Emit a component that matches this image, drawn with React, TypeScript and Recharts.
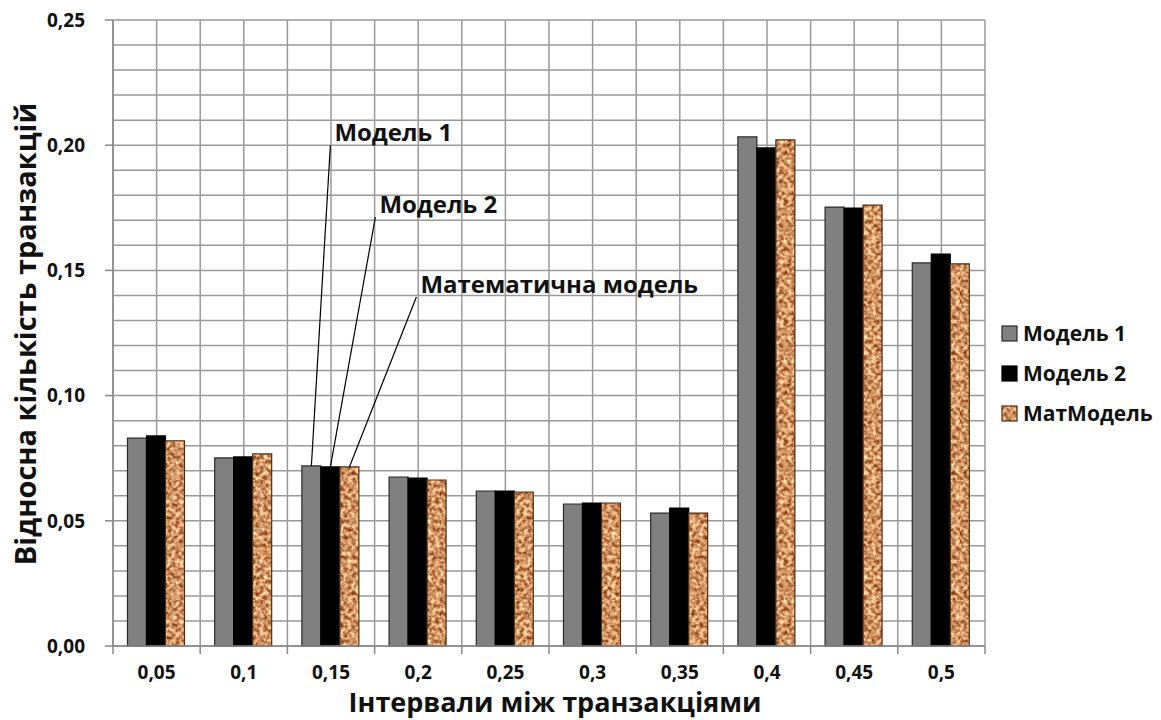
import React from "react";
import {
  BarChart,
  Bar,
  XAxis,
  YAxis,
  CartesianGrid,
  Legend,
  LabelList,
  Label,
} from "recharts";

// interval bins between transactions
const categories = ["0,05", "0,1", "0,15", "0,2", "0,25", "0,3", "0,35", "0,4", "0,45", "0,5"];

// relative share of transactions per bin
const model1 = [0.083, 0.0751, 0.0719, 0.0675, 0.0619, 0.0567, 0.0531, 0.2033, 0.1753, 0.153];
const model2 = [0.0839, 0.0755, 0.0715, 0.0671, 0.0619, 0.0571, 0.0551, 0.1989, 0.1749, 0.1565];
const matModel = [0.0819, 0.0767, 0.0715, 0.0663, 0.0615, 0.0571, 0.0531, 0.2021, 0.1761, 0.1526];

const yTicks = [0, 0.05, 0.1, 0.15, 0.2, 0.25];

const data = categories.map((c, i) => ({
  interval: c,
  model1: model1[i],
  model2: model2[i],
  matModel: matModel[i],
}));

const W = 1161;
const H = 720;
const MARGIN = { top: 20, right: 176, left: 0, bottom: 0 };
const Y_AXIS_W = 113;
const X_AXIS_H = 74;
const PLOT_W = W - MARGIN.right - Y_AXIS_W;
const PLOT_H = H - MARGIN.top - X_AXIS_H;
const PLOT_BOTTOM = MARGIN.top + PLOT_H;
const STEP = PLOT_W / categories.length;

const FONT = "'Open Sans', 'DejaVu Sans', sans-serif";

// callouts pointing at the 0,15 group
const CALLOUT_INDEX = 2;
const callouts = {
  model1: { text: "Модель 1", at: 0.2, dx: 19 },
  model2: { text: "Модель 2", at: 0.1713, dx: 45 },
  matModel: { text: "Математична модель", at: 0.1394, dx: 67 },
};

const series = [
  { key: "model1", name: "Модель 1", fill: "#808080", stroke: "#2a2a2a" },
  { key: "model2", name: "Модель 2", fill: "#000000", stroke: "#000000" },
  { key: "matModel", name: "МатМодель", fill: "url(#cork)", stroke: "#4a2e16" },
];

const fmt = (v: number) => v.toFixed(2).replace(".", ",");

function makeCallout(key: keyof typeof callouts) {
  const c = callouts[key];
  return (props: any) => {
    if (props.index !== CALLOUT_INDEX) return null;
    const vb = props.viewBox ?? props;
    const x = Number(props.x ?? vb.x);
    const y = Number(props.y ?? vb.y);
    const w = Number(props.width ?? vb.width);
    const h = Number(props.height ?? vb.height);
    const v = Number(props.value);
    const base = y + h;
    const ty = base - (c.at * h) / v;
    const cx = x + w / 2;
    const tx = cx + c.dx;
    return (
      <g>
        <line x1={cx} y1={y} x2={tx} y2={ty} stroke="#000" strokeWidth={1.2} />
        <text
          x={tx + 4}
          y={ty - 4}
          fontFamily={FONT}
          fontWeight={700}
          fontSize={24}
          fill="#111"
        >
          {c.text}
        </text>
      </g>
    );
  };
}

const XTick = (props: any) => {
  const { x, index } = props;
  const left = x - STEP / 2;
  return (
    <g>
      <line x1={left} y1={PLOT_BOTTOM} x2={left} y2={PLOT_BOTTOM + 8} stroke="#888" strokeWidth={1.5} />
      {index === categories.length - 1 && (
        <line x1={left + STEP} y1={PLOT_BOTTOM} x2={left + STEP} y2={PLOT_BOTTOM + 8} stroke="#888" strokeWidth={1.5} />
      )}
      <text
        x={x}
        y={PLOT_BOTTOM + 26}
        textAnchor="middle"
        dominantBaseline="central"
        fontFamily={FONT}
        fontWeight={700}
        fontSize={19}
        fill="#111"
      >
        {props.payload.value}
      </text>
    </g>
  );
};

const LegendBox = () => (
  <div style={{ fontFamily: FONT, fontWeight: 700, fontSize: 21, color: "#111" }}>
    {series.map((s) => (
      <div key={s.key} style={{ display: "flex", alignItems: "center", height: 40 }}>
        <svg width={17} height={17} style={{ marginRight: 5 }}>
          <rect x={1} y={1} width={15} height={15} fill={s.fill} stroke={s.stroke} strokeWidth={1.2} />
        </svg>
        <span>{s.name}</span>
      </div>
    ))}
  </div>
);

export default function App() {
  return (
    <div style={{ position: "absolute", left: 0, top: 0, background: "#fff" }}>
      <BarChart
        width={W}
        height={H}
        data={data}
        margin={MARGIN}
        barCategoryGap="16.6%"
        barGap={0}
      >
        <defs>
          <filter
            id="corkNoise"
            x="0"
            y="0"
            width="100%"
            height="100%"
            colorInterpolationFilters="sRGB"
          >
            <feTurbulence type="fractalNoise" baseFrequency="0.25" numOctaves={3} seed={7} result="noise" />
            <feColorMatrix
              in="noise"
              type="matrix"
              values="1.0 0 0 0 0.32  1.2 0 0 0 -0.02  1.1 0 0 0 -0.16  0 0 0 0 1"
            />
          </filter>
          <pattern id="cork" patternUnits="userSpaceOnUse" width={120} height={120}>
            <rect width={120} height={120} fill="#d2a071" filter="url(#corkNoise)" />
          </pattern>
        </defs>
        <CartesianGrid
          stroke="#9a9a9a"
          strokeWidth={1.5}
          verticalCoordinatesGenerator={({ offset }: any) =>
            Array.from({ length: categories.length * 2 + 1 }, (_, i) => offset.left + (i * offset.width) / (categories.length * 2))
          }
          horizontalCoordinatesGenerator={({ offset }: any) =>
            Array.from({ length: 26 }, (_, i) => offset.top + (i * offset.height) / 25)
          }
        />
        <XAxis
          dataKey="interval"
          height={X_AXIS_H}
          tickLine={false}
          axisLine={{ stroke: "#888", strokeWidth: 1.5 }}
          tick={<XTick />}
          interval={0}
        >
          <Label
            content={(p: any) => {
              const vb = p.viewBox;
              return (
                <text
                  x={vb.x + vb.width / 2 + 6}
                  y={vb.y + 55}
                  textAnchor="middle"
                  dominantBaseline="central"
                  fontFamily={FONT}
                  fontWeight={700}
                  fontSize={27}
                  fill="#111"
                >
                  Інтервали між транзакціями
                </text>
              );
            }}
          />
        </XAxis>
        <YAxis
          width={Y_AXIS_W}
          domain={[0, 0.25]}
          ticks={yTicks}
          tickFormatter={fmt}
          tickSize={8}
          tickMargin={20}
          tickLine={{ stroke: "#888", strokeWidth: 1.5 }}
          axisLine={{ stroke: "#888", strokeWidth: 1.5 }}
          tick={{ fontFamily: FONT, fontWeight: 700, fontSize: 19, fill: "#111" }}
        >
          <Label
            content={(p: any) => {
              const vb = p.viewBox;
              const cy = vb.y + vb.height / 2 + 1;
              return (
                <text
                  x={24}
                  y={cy}
                  transform={`rotate(-90, 24, ${cy})`}
                  textAnchor="middle"
                  dominantBaseline="central"
                  fontFamily={FONT}
                  fontWeight={700}
                  fontSize={29}
                  fill="#111"
                >
                  Відносна кількість транзакцій
                </text>
              );
            }}
          />
        </YAxis>
        <Legend
          layout="horizontal"
          verticalAlign="middle"
          align="center"
          content={<LegendBox />}
          wrapperStyle={{ left: 1001, top: 313, width: 160 }}
        />
        {series.map((s) => (
          <Bar
            key={s.key}
            dataKey={s.key}
            name={s.name}
            fill={s.fill}
            stroke={s.stroke}
            strokeWidth={1.2}
            isAnimationActive={false}
          >
            <LabelList dataKey={s.key} content={makeCallout(s.key as keyof typeof callouts)} />
          </Bar>
        ))}
      </BarChart>
    </div>
  );
}
